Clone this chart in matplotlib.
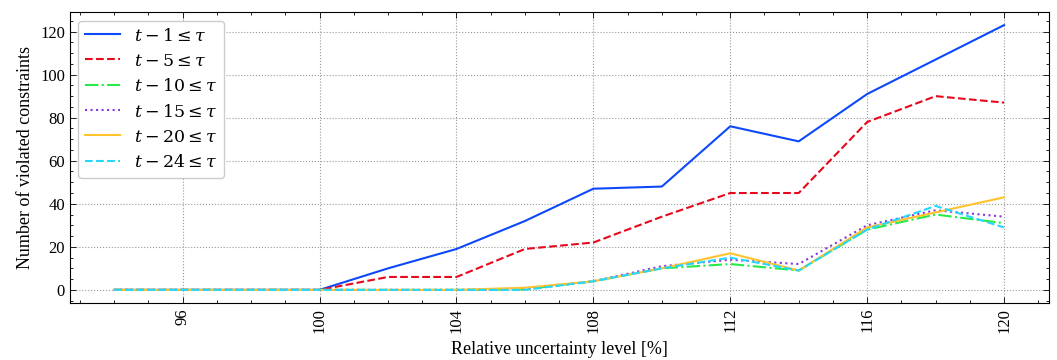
import numpy as np
import matplotlib.pyplot as plt
from matplotlib.ticker import MultipleLocator

# relative uncertainty level [%]
levels = [94, 96, 98, 100, 102, 104, 106, 108, 110, 112, 114, 116, 118, 120]

lag_1 = [0, 0, 0, 0, 10, 19, 32, 47, 48, 76, 69, 91, 107, 123]
lag_5 = [0, 0, 0, 0, 6, 6, 19, 22, 34, 45, 45, 78, 90, 87]
lag_10 = [0, 0, 0, 0, 0, 0, 0.3, 4, 10, 12, 9, 28, 35, 31]
lag_15 = [0, 0, 0, 0, 0, 0, 0.3, 4, 11, 14, 12, 30, 37, 34]
lag_20 = [0, 0, 0, 0, 0, 0, 1, 4, 10, 17, 9, 29, 36, 43]
lag_24 = [0, 0, 0, 0, 0, 0, 0, 4, 10, 15, 9, 28, 39, 29]

labels = [r"$t-1 \leq \tau$", r"$t-5 \leq \tau$", r"$t-10 \leq \tau$",
          r"$t-15 \leq \tau$", r"$t-20 \leq \tau$", r"$t-24 \leq \tau$"]
series = [lag_1, lag_5, lag_10, lag_15, lag_20, lag_24]
colors = ['#0d49fb', '#e6091c', '#26eb47', '#8936df', '#fec32d', '#25d7fd']
styles = ['-', '--', '-.', ':', '-', '--']

plt.rcParams.update({
    'font.family': 'serif',
    'font.serif': ['Liberation Serif', 'DejaVu Serif'],
    'mathtext.fontset': 'dejavuserif',
    'xtick.direction': 'in', 'ytick.direction': 'in',
    'xtick.top': True, 'ytick.right': True,
    'xtick.major.size': 4, 'ytick.major.size': 4,
    'xtick.minor.size': 2, 'ytick.minor.size': 2,
    'xtick.major.width': 0.6, 'ytick.major.width': 0.6,
    'xtick.minor.width': 0.6, 'ytick.minor.width': 0.6,
    'axes.linewidth': 0.8,
})

fig = plt.figure(figsize=(10.57, 3.6), dpi=100)
ax = fig.add_axes([0.066, 0.158, 0.926, 0.809])

for y, lab, c, ls in zip(series, labels, colors, styles):
    ax.plot(levels, y, ls, color=c, label=lab, linewidth=1.5)

ax.xaxis.set_major_locator(MultipleLocator(4))
ax.xaxis.set_minor_locator(MultipleLocator(1))
ax.yaxis.set_major_locator(MultipleLocator(20))
ax.yaxis.set_minor_locator(MultipleLocator(5))
ax.tick_params(axis='both', labelsize=12)
plt.setp(ax.get_xticklabels(), rotation=90)

ax.grid(True, which='major', color='#999999', linestyle=':', linewidth=0.8)
ax.set_xlabel("Relative uncertainty level [%]", fontsize=13, labelpad=6)
ax.set_ylabel("Number of violated constraints", fontsize=13)
ax.legend(loc='upper left', fontsize=12.5, frameon=True, fancybox=True,
          edgecolor='#cccccc', framealpha=1, handlelength=2.0,
          labelspacing=0.5)

fig.savefig("out.png", dpi=100)
